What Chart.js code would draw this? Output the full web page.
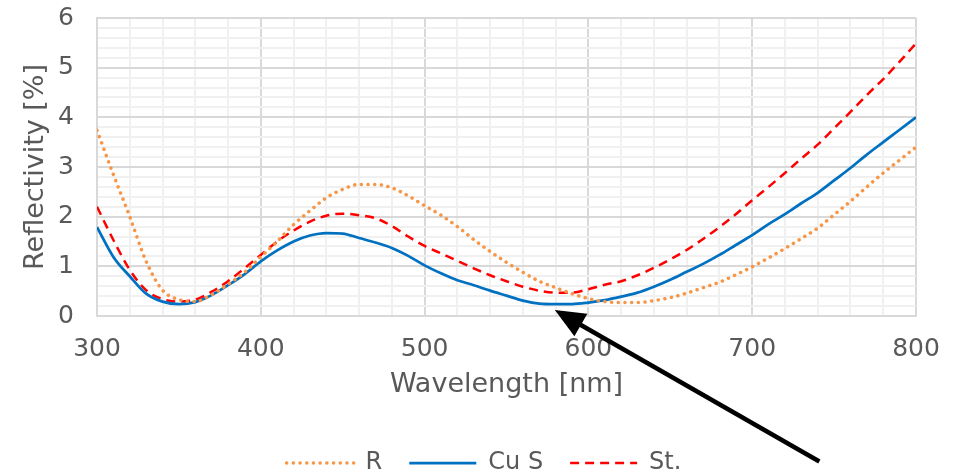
<!DOCTYPE html>
<html>
<head>
<meta charset="utf-8">
<script src="https://cdn.jsdelivr.net/npm/chart.js@4/dist/chart.umd.min.js"></script>
<style>
  html, body { margin: 0; padding: 0; background: #fff; }
  #wrap { width: 969px; height: 472px; }
</style>
</head>
<body>
<div id="wrap"><canvas id="c" width="969" height="472"></canvas></div>
<script>
// ---- data ----
const wavelengths = [300,310,320,330,340,350,360,370,380,390,400,410,420,430,440,450,460,470,480,490,500,510,520,530,540,550,560,570,580,590,600,610,620,630,640,650,660,670,680,690,700,710,720,730,740,750,760,770,780,790,800];

const rValues = [3.74,2.85,2.00,1.10,0.52,0.33,0.29,0.43,0.64,0.88,1.19,1.50,1.84,2.12,2.38,2.55,2.65,2.65,2.58,2.42,2.22,2.03,1.80,1.54,1.30,1.08,0.88,0.70,0.57,0.45,0.35,0.29,0.27,0.27,0.31,0.37,0.46,0.57,0.68,0.83,0.99,1.17,1.36,1.56,1.77,2.04,2.31,2.60,2.88,3.14,3.40];

const cuValues = [1.79,1.19,0.80,0.45,0.29,0.24,0.28,0.42,0.62,0.84,1.10,1.32,1.50,1.62,1.67,1.66,1.57,1.48,1.37,1.21,1.02,0.86,0.72,0.62,0.51,0.41,0.31,0.25,0.24,0.24,0.27,0.32,0.39,0.47,0.59,0.73,0.89,1.05,1.23,1.43,1.63,1.85,2.05,2.27,2.48,2.73,2.98,3.25,3.50,3.75,4.00];

const stValues = [2.20,1.53,0.93,0.52,0.34,0.29,0.33,0.49,0.70,0.96,1.23,1.50,1.72,1.90,2.02,2.06,2.03,1.97,1.81,1.60,1.41,1.26,1.11,0.96,0.82,0.70,0.59,0.51,0.47,0.47,0.54,0.63,0.70,0.82,0.97,1.14,1.33,1.55,1.79,2.05,2.33,2.60,2.88,3.17,3.45,3.78,4.11,4.45,4.77,5.12,5.49];

const seriesNames = ['R', 'Cu S', 'St.'];
const xTickLabels = ['300','400','500','600','700','800'];
const yTickLabels = ['0','1','2','3','4','5','6'];
const xTitle = 'Wavelength [nm]';
const yTitle = 'Reflectivity [%]';

// arrow annotation in data units: tail -> tip
const arrowTail = { x: 741, y: -2.93 };
const arrowTip  = { x: 579.5, y: 0.12 };

// ---- chart ----
const FONT = 'DejaVu Sans';
const TXT = '#595959';
const toPts = vals => wavelengths.map((w, i) => ({ x: w, y: vals[i] }));
const near = (v, step) => Math.abs(v / step - Math.round(v / step)) < 1e-6;

const arrowPlugin = {
  id: 'arrow',
  afterDatasetsDraw(chart) {
    const { ctx, scales: { x, y } } = chart;
    const x1 = x.getPixelForValue(arrowTail.x), y1 = y.getPixelForValue(arrowTail.y);
    const x2 = x.getPixelForValue(arrowTip.x),  y2 = y.getPixelForValue(arrowTip.y);
    const ang = Math.atan2(y2 - y1, x2 - x1);
    const headLen = 30, headHalf = 13;
    const bx = x2 - Math.cos(ang) * headLen, by = y2 - Math.sin(ang) * headLen;
    ctx.save();
    ctx.strokeStyle = '#000';
    ctx.fillStyle = '#000';
    ctx.lineWidth = 4.5;
    ctx.beginPath();
    ctx.moveTo(x1, y1);
    ctx.lineTo(bx + Math.cos(ang) * 4, by + Math.sin(ang) * 4);
    ctx.stroke();
    ctx.beginPath();
    ctx.moveTo(x2, y2);
    ctx.lineTo(bx + Math.sin(ang) * headHalf, by - Math.cos(ang) * headHalf);
    ctx.lineTo(bx - Math.sin(ang) * headHalf, by + Math.cos(ang) * headHalf);
    ctx.closePath();
    ctx.fill();
    ctx.restore();
  }
};

const legendShift = {
  id: 'legendShift',
  afterLayout(chart) {
    if (chart.legend) {
      chart.legend.left += 26; chart.legend.right += 26;
      chart.legend.top += 3; chart.legend.bottom += 3;
    }
  }
};

new Chart(document.getElementById('c'), {
  type: 'line',
  data: {
    datasets: [
      { label: seriesNames[0], data: toPts(rValues), borderColor: '#F79646', backgroundColor: '#F79646',
        borderWidth: 3.5, borderDash: [0.1, 6.6], borderCapStyle: 'round', pointRadius: 0,
        cubicInterpolationMode: 'monotone', fill: false },
      { label: seriesNames[1], data: toPts(cuValues), borderColor: '#0070C0', backgroundColor: '#0070C0',
        borderWidth: 2.75, pointRadius: 0, cubicInterpolationMode: 'monotone', fill: false },
      { label: seriesNames[2], data: toPts(stValues), borderColor: '#FF0000', backgroundColor: '#FF0000',
        borderWidth: 2.5, borderDash: [9, 6], pointRadius: 0, cubicInterpolationMode: 'monotone', fill: false }
    ]
  },
  options: {
    responsive: false,
    animation: false,
    devicePixelRatio: 1,
    layout: { padding: { top: 18, right: 53, left: 0, bottom: 0 } },
    plugins: {
      tooltip: { enabled: false },
      legend: {
        position: 'bottom',
        align: 'center',
        maxHeight: 51,
        labels: {
          usePointStyle: true,
          pointStyle: 'line',
          pointStyleWidth: 67,
          padding: 27,
          color: TXT,
          font: { family: FONT, size: 24 },
          generateLabels(chart) {
            const items = Chart.defaults.plugins.legend.labels.generateLabels(chart);
            items.forEach(it => {
              const ds = chart.data.datasets[it.datasetIndex];
              it.lineDash = ds.borderDash || [];
              it.lineCap = ds.borderCapStyle || 'butt';
              it.lineWidth = ds.borderWidth;
              it.strokeStyle = ds.borderColor;
              it.fillStyle = ds.borderColor;
            });
            return items;
          }
        }
      }
    },
    scales: {
      x: {
        type: 'linear',
        min: 300, max: 800,
        afterFit(s) { s.height = 105; s.paddingLeft = 0; s.paddingRight = 0; },
        border: { color: '#d9d9d9', width: 2 },
        grid: {
          drawTicks: false,
          lineWidth: 2,
          color: c => near(c.tick.value, 100) ? '#d9d9d9' : '#f0f0f0'
        },
        ticks: {
          stepSize: 20, autoSkip: false, maxRotation: 0, maxTicksLimit: 100,
          padding: 18, color: TXT, font: { family: FONT, size: 25 },
          callback: v => { const s = String(Math.round(v)); return near(v, 100) && xTickLabels.includes(s) ? s : ''; }
        },
        title: { display: true, text: xTitle, color: TXT, font: { family: FONT, size: 27 },
                 padding: { top: 0, bottom: 20 } }
      },
      y: {
        min: 0, max: 6,
        afterFit(s) { s.width = 97; s.paddingTop = 0; s.paddingBottom = 0; },
        border: { color: '#d9d9d9', width: 2 },
        grid: {
          drawTicks: false,
          lineWidth: 2,
          color: c => near(c.tick.value, 1) ? '#d9d9d9' : '#f0f0f0'
        },
        ticks: {
          stepSize: 0.2, autoSkip: false, maxTicksLimit: 100,
          padding: 23, color: TXT, font: { family: FONT, size: 25 },
          callback: v => { const s = String(Math.round(v)); return near(v, 1) && yTickLabels.includes(s) ? s : ''; }
        },
        title: { display: true, text: yTitle, color: TXT, font: { family: FONT, size: 27 },
                 padding: { top: 20, bottom: 0 } }
      }
    }
  },
  plugins: [arrowPlugin, legendShift]
});
</script>
</body>
</html>
